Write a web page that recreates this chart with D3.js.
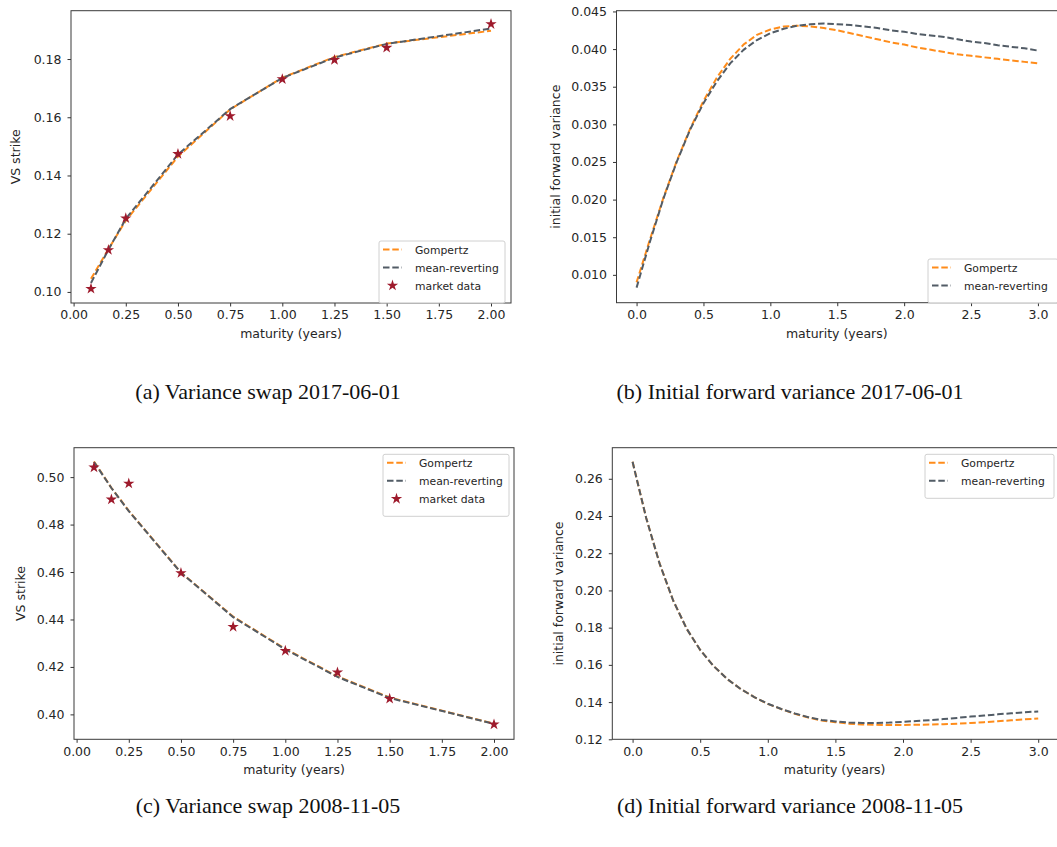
<!DOCTYPE html>
<html>
<head>
<meta charset="utf-8">
<script src="https://cdn.jsdelivr.net/npm/d3@7"></script>
<style>
  body { margin: 0; background: #fff; }
  text { font-family: "DejaVu Sans", sans-serif; fill: #262626; }
  .caption { font-family: "Liberation Serif", serif; fill: #111; }
</style>
</head>
<body>
<div id="chart"></div>
<script>
// maturities of the variance swap quotes (years)
var swapMaturities = [0.0833, 0.1667, 0.25, 0.5, 0.75, 1.0, 1.25, 1.5, 2.0];

// (a) 2017-06-01 variance swap strikes
var swap2017Market   = [0.1011, 0.1144, 0.1253, 0.1474, 0.1604, 0.1731, 0.1797, 0.1839, 0.1920];
var swap2017Gompertz = [0.1045, 0.1147, 0.1245, 0.1465, 0.1627, 0.1736, 0.1807, 0.1853, 0.1897];
var swap2017MeanRev  = [0.1031, 0.1145, 0.1251, 0.1472, 0.1628, 0.1735, 0.1805, 0.1852, 0.1905];

// (c) 2008-11-05 variance swap strikes
var swap2008Market   = [0.5041, 0.4906, 0.4973, 0.4596, 0.4369, 0.4268, 0.4177, 0.4066, 0.3958];
var swap2008Gompertz = [0.5066, 0.4955, 0.4858, 0.4598, 0.4412, 0.4276, 0.4160, 0.4071, 0.3961];
var swap2008MeanRev  = [0.5064, 0.4954, 0.4857, 0.4597, 0.4410, 0.4274, 0.4158, 0.4069, 0.3960];

// time grid for the forward variance curves
var fwdTimes = [0.0, 0.1, 0.2, 0.3, 0.4, 0.5, 0.6, 0.7, 0.8, 0.9, 1.0,
                1.1, 1.2, 1.3, 1.4, 1.5, 1.6, 1.7, 1.8, 1.9, 2.0,
                2.1, 2.2, 2.3, 2.4, 2.5, 2.6, 2.7, 2.8, 2.9, 3.0];

// (b) 2017-06-01 initial forward variance
var fwd2017Gompertz = [0.0090, 0.0147, 0.0202, 0.0251, 0.0294, 0.0331, 0.0362, 0.0387, 0.0406, 0.0419, 0.0426,
                       0.0430, 0.0431, 0.0430, 0.0428, 0.0425, 0.0421, 0.0417, 0.0413, 0.0409, 0.0406,
                       0.0402, 0.0399, 0.0396, 0.0393, 0.0391, 0.0389, 0.0387, 0.0385, 0.0383, 0.0381];
var fwd2017MeanRev  = [0.0083, 0.0144, 0.0201, 0.0250, 0.0293, 0.0328, 0.0357, 0.0381, 0.0399, 0.0412, 0.0421,
                       0.0427, 0.0431, 0.0433, 0.0434, 0.0433, 0.0432, 0.0430, 0.0428, 0.0425, 0.0423,
                       0.0420, 0.0418, 0.0416, 0.0413, 0.0410, 0.0408, 0.0405, 0.0403, 0.0401, 0.0398];

// (d) 2008-11-05 initial forward variance
var fwd2008Gompertz = [0.2691, 0.2391, 0.2144, 0.1946, 0.1794, 0.1680, 0.1593, 0.1524, 0.1470, 0.1427, 0.1390,
                       0.1362, 0.1337, 0.1317, 0.1301, 0.1292, 0.1284, 0.1280, 0.1278, 0.1277, 0.1277,
                       0.1278, 0.1279, 0.1281, 0.1284, 0.1288, 0.1292, 0.1297, 0.1302, 0.1307, 0.1312];
var fwd2008MeanRev  = [0.2691, 0.2391, 0.2144, 0.1946, 0.1794, 0.1680, 0.1593, 0.1524, 0.1470, 0.1427, 0.1391,
                       0.1363, 0.1339, 0.1319, 0.1304, 0.1296, 0.1290, 0.1288, 0.1288, 0.1290, 0.1294,
                       0.1298, 0.1303, 0.1309, 0.1315, 0.1322, 0.1328, 0.1334, 0.1340, 0.1345, 0.1350];

// axis limits and ticks
var swapXDomain = [-0.0125, 2.0958];
var fwdXDomain  = [-0.15, 3.15];
var swapXTicks  = [0.0, 0.25, 0.5, 0.75, 1.0, 1.25, 1.5, 1.75, 2.0];
var fwdXTicks   = [0.0, 0.5, 1.0, 1.5, 2.0, 2.5, 3.0];
var aYDomain = [0.0962, 0.1966], aYTicks = [0.10, 0.12, 0.14, 0.16, 0.18];
var bYDomain = [0.0063, 0.0451], bYTicks = [0.010, 0.015, 0.020, 0.025, 0.030, 0.035, 0.040, 0.045];
var cYDomain = [0.3895, 0.5124], cYTicks = [0.40, 0.42, 0.44, 0.46, 0.48, 0.50];
var dYDomain = [0.1200, 0.2767], dYTicks = [0.12, 0.14, 0.16, 0.18, 0.20, 0.22, 0.24, 0.26];

var captions = ["(a) Variance swap 2017-06-01", "(b) Initial forward variance 2017-06-01",
                "(c) Variance swap 2008-11-05", "(d) Initial forward variance 2008-11-05"];

var orange = "#ff8c1a", grey = "#525c66", red = "#9e1a2c";
var dash = "6.5,2.8";

var svg = d3.select("#chart")
    .append("svg")
    .attr("width", 1057)
    .attr("height", 847)
    .style("background", "#fff");

function panel(p) {
    var x = d3.scaleLinear().domain(p.xDomain).range([p.left, p.right]);
    var y = d3.scaleLinear().domain(p.yDomain).range([p.bottom, p.top]);
    var g = svg.append("g");

    // lines: Gompertz under, mean-reverting on top
    var line = d3.line()
        .x(function (d) { return x(d[0]); })
        .y(function (d) { return y(d[1]); });
    g.append("path")
        .datum(d3.zip(p.xs, p.gompertz))
        .attr("d", line)
        .attr("fill", "none")
        .attr("stroke", orange)
        .attr("stroke-width", 2)
        .attr("stroke-dasharray", dash);
    g.append("path")
        .datum(d3.zip(p.xs, p.meanRev))
        .attr("d", line)
        .attr("fill", "none")
        .attr("stroke", grey)
        .attr("stroke-width", 2)
        .attr("stroke-dasharray", dash);

    if (p.market) {
        g.selectAll(".star")
            .data(d3.zip(p.xs, p.market))
            .enter()
            .append("path")
            .attr("d", d3.symbol().type(d3.symbolStar).size(40))
            .attr("transform", function (d) { return "translate(" + x(d[0]) + "," + y(d[1]) + ")"; })
            .attr("fill", red);
    }

    // axes
    var xAxis = g.append("g")
        .attr("transform", "translate(0," + p.bottom + ")")
        .call(d3.axisBottom(x).tickValues(p.xTicks).tickFormat(d3.format(p.xFormat)).tickSizeOuter(0).tickSize(3.5).tickPadding(4));
    var yAxis = g.append("g")
        .attr("transform", "translate(" + p.left + ",0)")
        .call(d3.axisLeft(y).tickValues(p.yTicks).tickFormat(d3.format(p.yFormat)).tickSizeOuter(0).tickSize(3.5).tickPadding(6));
    [xAxis, yAxis].forEach(function (a) {
        a.select(".domain").remove();
        a.selectAll("line").attr("stroke", "#333");
        a.selectAll("text").style("font-size", "12.5px").style("font-family", "DejaVu Sans").attr("fill", "#262626");
    });

    // frame
    g.append("rect")
        .attr("x", p.left).attr("y", p.top)
        .attr("width", p.right - p.left).attr("height", p.bottom - p.top)
        .attr("fill", "none").attr("stroke", "#3a3a3a").attr("stroke-width", 1);

    g.append("text")
        .attr("x", (p.left + Math.min(p.right, 1057)) / 2)
        .attr("y", p.bottom + 35)
        .attr("text-anchor", "middle")
        .style("font-size", "12.5px")
        .text("maturity (years)");
    g.append("text")
        .attr("transform", "translate(" + p.yLabelX + "," + (p.top + p.bottom) / 2 + ") rotate(-90)")
        .attr("text-anchor", "middle")
        .style("font-size", "12.5px")
        .text(p.yLabel);

    // legend
    var items = [{ name: "Gompertz", color: orange, kind: "line" },
                 { name: "mean-reverting", color: grey, kind: "line" }];
    if (p.market) items.push({ name: "market data", color: red, kind: "star" });
    var lg = g.append("g").attr("transform", "translate(" + p.legend[0] + "," + p.legend[1] + ")");
    lg.append("rect")
        .attr("width", p.legend[2]).attr("height", 8 + items.length * 18)
        .attr("rx", 2)
        .attr("fill", "#fff").attr("fill-opacity", 0.85)
        .attr("stroke", "#d0d0d0");
    items.forEach(function (it, i) {
        var cy = 8.5 + i * 18;
        if (it.kind === "line") {
            lg.append("line")
                .attr("x1", 4).attr("x2", 23).attr("y1", cy).attr("y2", cy)
                .attr("stroke", it.color).attr("stroke-width", 2)
                .attr("stroke-dasharray", dash);
        } else {
            lg.append("path")
                .attr("d", d3.symbol().type(d3.symbolStar).size(40))
                .attr("transform", "translate(13.5," + cy + ")")
                .attr("fill", it.color);
        }
        lg.append("text")
            .attr("x", 36).attr("y", cy + 4)
            .style("font-size", "10.8px")
            .text(it.name);
    });
}

panel({ left: 71, right: 511, top: 10.7, bottom: 303,
        xDomain: swapXDomain, yDomain: aYDomain, xTicks: swapXTicks, yTicks: aYTicks,
        xFormat: ".2f", yFormat: ".2f", xs: swapMaturities,
        gompertz: swap2017Gompertz, meanRev: swap2017MeanRev, market: swap2017Market,
        yLabel: "VS strike", yLabelX: 20, legend: [379, 241, 126] });

panel({ left: 616.5, right: 1058, top: 10.7, bottom: 302.7,
        xDomain: fwdXDomain, yDomain: bYDomain, xTicks: fwdXTicks, yTicks: bYTicks,
        xFormat: ".1f", yFormat: ".3f", xs: fwdTimes,
        gompertz: fwd2017Gompertz, meanRev: fwd2017MeanRev,
        yLabel: "initial forward variance", yLabelX: 559.5, legend: [928, 259, 130] });

panel({ left: 74, right: 514, top: 447.7, bottom: 739.3,
        xDomain: swapXDomain, yDomain: cYDomain, xTicks: swapXTicks, yTicks: cYTicks,
        xFormat: ".2f", yFormat: ".2f", xs: swapMaturities,
        gompertz: swap2008Gompertz, meanRev: swap2008MeanRev, market: swap2008Market,
        yLabel: "VS strike", yLabelX: 25, legend: [383, 454.3, 126] });

panel({ left: 612.3, right: 1058.5, top: 447.7, bottom: 739.3,
        xDomain: fwdXDomain, yDomain: dYDomain, xTicks: fwdXTicks, yTicks: dYTicks,
        xFormat: ".1f", yFormat: ".2f", xs: fwdTimes,
        gompertz: fwd2008Gompertz, meanRev: fwd2008MeanRev,
        yLabel: "initial forward variance", yLabelX: 562.5, legend: [925, 454.3, 129] });

// sub-figure captions
var capPos = [[268, 399], [790, 399], [268, 813], [790, 813]];
captions.forEach(function (c, i) {
    svg.append("text")
        .attr("class", "caption")
        .attr("x", capPos[i][0])
        .attr("y", capPos[i][1])
        .attr("text-anchor", "middle")
        .style("font-size", "22px")
        .style("font-family", "Liberation Serif")
        .text(c);
});
</script>
</body>
</html>
